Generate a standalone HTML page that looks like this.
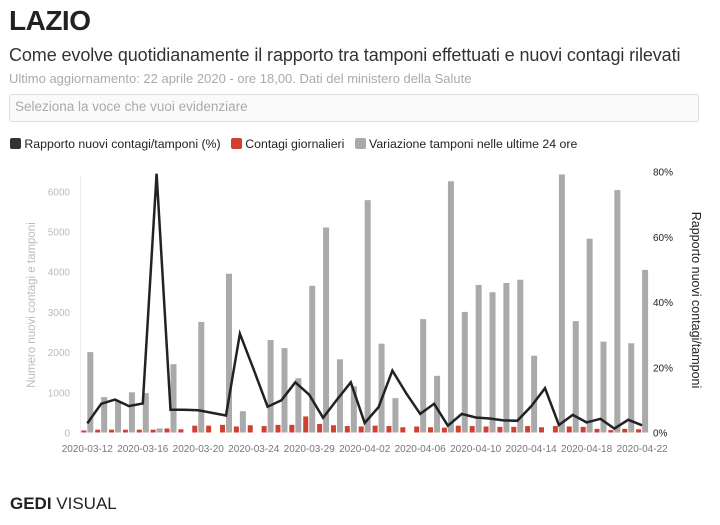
<!DOCTYPE html>
<html><head><meta charset="utf-8"><style>
body{margin:0;width:720px;height:525px;background:#fff;font-family:"Liberation Sans",sans-serif;position:relative;overflow:hidden}
.a{position:absolute;white-space:nowrap}
</style></head><body>
<div class="a" style="left:9px;top:5px;font-size:28px;font-weight:bold;color:#222;letter-spacing:-0.5px">LAZIO</div>
<div class="a" style="left:9px;top:45px;font-size:18px;color:#333;letter-spacing:-0.1px">Come evolve quotidianamente il rapporto tra tamponi effettuati e nuovi contagi rilevati</div>
<div class="a" style="left:9px;top:71px;font-size:13px;color:#aaa">Ultimo aggiornamento: 22 aprile 2020 - ore 18,00. Dati del ministero della Salute</div>
<div class="a" style="left:9px;top:94px;width:690px;height:28px;border:1px solid #ddd;border-radius:3px;background:#fafafa;box-sizing:border-box"></div>
<div class="a" style="left:15px;top:99px;font-size:13.5px;color:#aaa">Seleziona la voce che vuoi evidenziare</div>
<div class="a" style="left:10px;top:137px;font-size:12.3px;color:#222">
<span style="display:inline-block;width:11px;height:11px;background:#333;border-radius:2px;vertical-align:-1px"></span> Rapporto nuovi contagi/tamponi (%) &nbsp;
<span style="display:inline-block;width:11px;height:11px;background:#d04030;border-radius:2px;vertical-align:-1px"></span> Contagi giornalieri &nbsp;
<span style="display:inline-block;width:11px;height:11px;background:#aaa;border-radius:2px;vertical-align:-1px"></span> Variazione tamponi nelle ultime 24 ore</div>
<svg id="c" class="a" style="left:0;top:0" width="720" height="525"></svg>
<div class="a" style="left:10px;top:494px;font-size:17px;color:#222"><b>GEDI</b> VISUAL</div>
<script>
var g=[2000,880,780,1000,980,100,1700,0,2750,0,3950,530,0,2300,2100,1350,3650,5100,1820,1150,5780,2210,855,0,2820,1410,6250,3000,3670,3490,3720,3800,1910,0,6420,2770,4820,2260,6030,2220,4045];
var r=[50,70,70,70,70,70,100,80,170,170,190,150,180,160,190,190,400,210,180,160,150,170,160,130,150,130,120,170,160,150,140,140,160,130,160,150,140,90,60,90,80];
var p=[2.8,8.8,10.1,8.1,8.9,79.4,7,7,6.8,6,5.2,30.3,19.3,7.9,9.9,15.4,11.6,4.5,10.1,15.4,2.9,7.8,19,12,5.7,8.8,2.1,5.7,4.6,4.3,3.7,3.6,8,13.6,2.3,5.4,3.1,4.2,1.2,3.9,2.2];
var s='',y0=432.5,k=0.0402,kp=3.26;
s+='<line x1="80.5" y1="175" x2="80.5" y2="433" stroke="#eee"/>';
for(var v=0;v<=6000;v+=1000){var y=y0-v*k;s+='<text x="70" y="'+(y+4)+'" font-size="10" fill="#bbb" text-anchor="end" font-family="Liberation Sans">'+v+'</text>';}
for(var q=0;q<=80;q+=20){var y=y0-q*kp;s+='<text x="653" y="'+(y+4)+'" font-size="10" fill="#222" font-family="Liberation Sans">'+q+'%</text>';}
var L=['03-12','03-16','03-20','03-24','03-29','04-02','04-06','04-10','04-14','04-18','04-22'];
var pts=[];
for(var i=0;i<41;i++){var x=87.3+13.87*i;
if(g[i])s+='<rect x="'+(x)+'" y="'+(y0-g[i]*k)+'" width="6" height="'+g[i]*k+'" fill="#aaa"/>';
s+='<rect x="'+(x-6)+'" y="'+(y0-r[i]*k)+'" width="5" height="'+r[i]*k+'" fill="#d04030"/>';
pts.push(x.toFixed(1)+','+(y0-p[i]*kp).toFixed(1));
if(i%4==0)s+='<text x="'+x+'" y="452" font-size="10" fill="#777" text-anchor="middle" font-family="Liberation Sans">2020-'+L[i/4]+'</text>';}
s+='<polyline points="'+pts.join(' ')+'" fill="none" stroke="#222" stroke-width="2.5" stroke-linejoin="miter"/>';
s+='<text transform="translate(35,305) rotate(-90)" font-size="11.5" fill="#bbb" text-anchor="middle" font-family="Liberation Sans">Numero nuovi contagi e tamponi</text>';
s+='<text transform="translate(692,300) rotate(90)" font-size="12.5" fill="#222" text-anchor="middle" font-family="Liberation Sans">Rapporto nuovi contagi/tamponi</text>';
document.getElementById('c').innerHTML=s;
</script>
</body></html>
